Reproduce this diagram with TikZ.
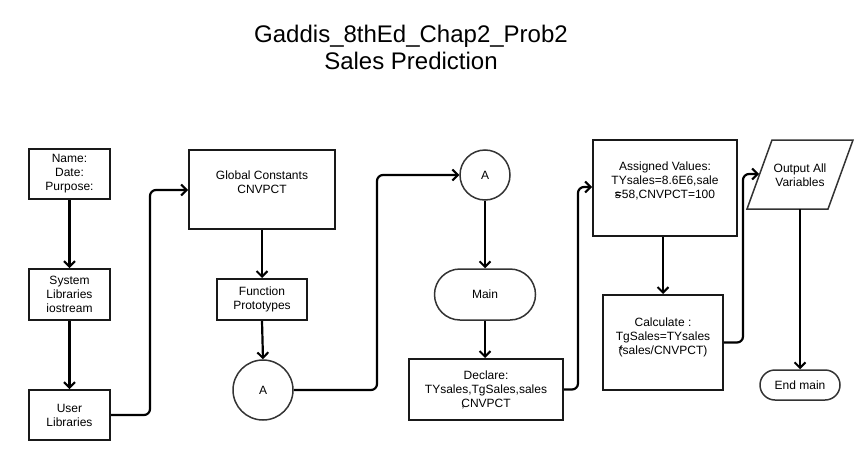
\documentclass[tikz,border=0pt]{standalone}
\usepackage{fontspec}
\setmainfont{Liberation Sans}
\usetikzlibrary{arrows.meta}
\begin{document}
\begin{tikzpicture}[x=1pt,y=-1pt,
  every node/.style={font=\fontsize{12}{14}\selectfont, align=center, inner sep=0pt},
  box/.style={draw=black!90, line width=2pt, rectangle},
  rnd/.style={draw=black!80, line width=1.5pt, circle, minimum size=#1},
  term/.style={draw=black!80, line width=1.5pt, rectangle},
  txt/.style={},
  conn/.style={draw=black, line width=2.2pt, rounded corners=6pt, -{Straight Barb[length=5.5pt,width=11pt,line width=2pt]}},
]
\useasboundingbox (0,0) rectangle (866,460);
% title
\node[font=\fontsize{24}{27}\selectfont] (title) at (411,47) {Gaddis\_8thEd\_Chap2\_Prob2\\Sales Prediction};
% left column
\node[box, minimum width=81pt, minimum height=50pt] (name) at (69.5,174) {Name:\\Date:\\Purpose:};
\node[box, minimum width=81pt, minimum height=51pt] (sys) at (69.5,294.5) {System\\Libraries\\iostream};
\node[box, minimum width=81pt, minimum height=50pt] (user) at (69.5,415) {User\\Libraries};
% second column
\node[box, minimum width=146pt, minimum height=79pt] (glob) at (262,189.5) {};
\node[txt] (globt) at ([yshift=7pt]glob.center) {Global Constants\\CNVPCT};
\node[box, minimum width=90pt, minimum height=41pt] (fp) at (262,299.5) {Function\\Prototypes};
\node[rnd=60pt] (abot) at (263,390) {A};
% third column
\node[rnd=50pt] (atop) at (485,175) {A};
\node[term, minimum width=101pt, minimum height=51pt, rounded corners=25.5pt] (main) at (485,294.5) {Main};
\node[box, minimum width=154pt, minimum height=61pt] (decl) at (486,389.5) {Declare:\\TYsales,TgSales,sales\\\rlap{,}CNVPCT};
% fourth column
\node[box, minimum width=144pt, minimum height=96pt] (asg) at (665,188) {};
\node[txt] (asgt) at ([yshift=7pt]asg.center) {Assigned Values:\\TYsales=8.6E6,sale\\\rlap{s}=58,CNVPCT=100};
\node[box, minimum width=120pt, minimum height=95pt] (calc) at (663,342.5) {};
\node[txt] (calct) at ([yshift=5pt]calc.center) {Calculate :\\TgSales=TYsales\\\rlap{*}(sales/CNVPCT)};
% output parallelogram
\coordinate (otl) at (772,140);
\coordinate (otr) at (853,140);
\coordinate (obr) at (828,209);
\coordinate (obl) at (747,209);
\draw[draw=black!80, line width=1.5pt] (otl) -- (otr) -- (obr) -- (obl) -- cycle;
\node[txt] (out) at (800,175) {Output All\\Variables};
\coordinate (oin) at (759,174);
\coordinate (obot) at (800,209);
\node[term, minimum width=80pt, minimum height=30pt, rounded corners=15pt] (endm) at (800,385) {End main};
% connectors
\draw[conn] (name.south) -- (sys.north);
\draw[conn] (sys.south) -- (user.north);
\draw[conn] (user.east) -- (150,415) -- (150,190) -- (glob.west |- 0,190);
\draw[conn] (glob.south) -- (fp.north);
\draw[conn] (fp.south) -- (abot.north);
\draw[conn] (abot.east) -- (377,390) -- (377,175) -- (atop.west);
\draw[conn] (atop.south) -- (main.north);
\draw[conn] (main.south) -- (main.south |- decl.north);
\draw[conn] (decl.east) -- (578,389.5) -- (578,187) -- (asg.west |- 0,187);
\draw[conn] (asg.south -| calc.north) -- (calc.north);
\draw[conn] (calc.east) -- (743,342.5) -- (743,174) -- (oin);
\draw[conn] (obot) -- (endm.north);
\end{tikzpicture}
\end{document}
